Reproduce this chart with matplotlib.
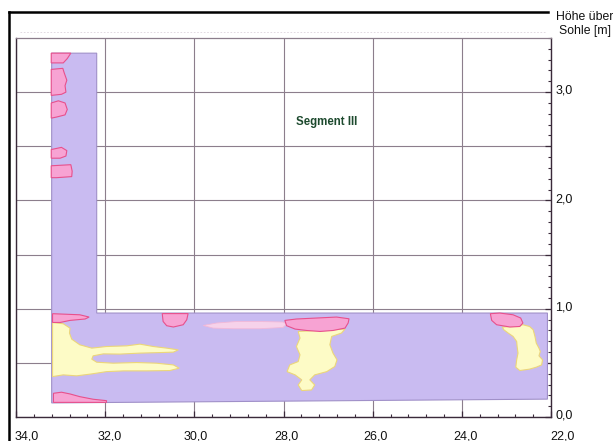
import matplotlib
matplotlib.use("Agg")
import matplotlib.pyplot as plt
from matplotlib.patches import Polygon
from matplotlib.ticker import FixedLocator, MultipleLocator, FuncFormatter
import matplotlib.transforms as mtrans
from matplotlib.lines import Line2D

plt.rcParams['font.family'] = ['Liberation Sans', 'DejaVu Sans']

# ---------------- data ----------------
x_major = [34.0, 32.0, 30.0, 28.0, 26.0, 24.0, 22.0]
x_labels = ["34,0", "32,0", "30,0", "28,0", "26,0", "24,0", "22,0"]
y_major = [0.0, 0.5, 1.0, 1.5, 2.0, 2.5, 3.0]
y_labels = {0.0: "0,0", 1.0: "1,0", 2.0: "2,0", 3.0: "3,0"}

# L-shaped section outline (station [m], height [m])
section_x = [33.2, 32.19, 32.19, 22.08, 22.08, 33.2]
section_y = [3.36, 3.36, 0.96, 0.96, 0.165, 0.13]

# pink (strong) zones
pink_zones = [
    ([33.21, 32.77, 32.85, 32.94, 33.21], [3.36, 3.36, 3.31, 3.27, 3.27]),
    ([33.21, 32.95, 32.92, 32.86, 32.90, 32.88, 32.98, 33.21],
     [3.21, 3.22, 3.18, 3.11, 3.06, 3.00, 2.98, 2.97]),
    ([33.21, 33.05, 32.90, 32.85, 32.90, 33.09, 33.21],
     [2.90, 2.92, 2.90, 2.84, 2.79, 2.77, 2.76]),
    ([33.21, 32.98, 32.86, 32.88, 33.01, 33.21],
     [2.47, 2.49, 2.46, 2.41, 2.39, 2.39]),
    ([33.21, 32.77, 32.74, 32.75, 33.09, 33.21],
     [2.32, 2.33, 2.27, 2.22, 2.21, 2.21]),
    ([33.18, 32.57, 32.36, 32.45, 32.79, 33.01, 33.18],
     [0.954, 0.944, 0.923, 0.905, 0.892, 0.873, 0.873]),
    ([33.16, 32.98, 32.79, 32.57, 32.27, 31.97, 31.97, 33.16],
     [0.219, 0.229, 0.213, 0.188, 0.164, 0.151, 0.135, 0.135]),
    ([30.72, 30.14, 30.17, 30.25, 30.47, 30.62, 30.70],
     [0.955, 0.955, 0.898, 0.852, 0.831, 0.843, 0.882]),
    ([27.97, 27.71, 27.26, 26.81, 26.53, 26.55, 26.62, 26.89, 27.18, 27.48, 27.74, 27.93],
     [0.892, 0.905, 0.914, 0.923, 0.907, 0.868, 0.821, 0.799, 0.790, 0.799, 0.812, 0.843]),
    ([23.36, 23.15, 22.85, 22.68, 22.63, 22.70, 22.92, 23.22, 23.33],
     [0.954, 0.960, 0.944, 0.914, 0.868, 0.836, 0.831, 0.852, 0.892]),
]

# pale pink streak
pale_x = [29.80, 29.50, 29.05, 28.53, 28.01, 27.93, 28.01, 28.53, 29.13, 29.58]
pale_y = [0.845, 0.868, 0.882, 0.882, 0.877, 0.858, 0.827, 0.815, 0.815, 0.821]

# yellow zones
yellow_left_x = [33.18, 32.94, 32.79, 32.80, 32.75, 32.57, 32.30, 31.97, 31.52, 31.22,
                 30.92, 30.62, 30.36, 30.47, 30.77, 31.22, 31.67, 32.04, 32.27, 32.30,
                 32.19, 31.82, 31.29, 30.85, 30.47, 30.34, 30.55, 31.07, 31.59, 31.97,
                 32.30, 32.64, 32.94, 33.18]
yellow_left_y = [0.873, 0.861, 0.821, 0.775, 0.719, 0.667, 0.636, 0.651, 0.657, 0.673,
                 0.651, 0.636, 0.620, 0.599, 0.595, 0.590, 0.581, 0.583, 0.565, 0.534,
                 0.506, 0.497, 0.503, 0.497, 0.481, 0.451, 0.429, 0.426, 0.426, 0.419,
                 0.398, 0.380, 0.389, 0.373]
yellow_mid_x = [27.67, 26.62, 26.70, 26.92, 26.96, 26.89, 26.80, 26.85, 27.03, 27.30,
                27.41, 27.30, 27.37, 27.59, 27.67, 27.59, 27.74, 27.92, 27.86, 27.67,
                27.63, 27.71, 27.63]
yellow_mid_y = [0.790, 0.812, 0.775, 0.744, 0.667, 0.590, 0.528, 0.466, 0.419, 0.389,
                0.343, 0.296, 0.250, 0.244, 0.296, 0.343, 0.389, 0.419, 0.481, 0.512,
                0.574, 0.651, 0.729]
yellow_right_x = [23.09, 22.85, 22.63, 22.48, 22.40, 22.36, 22.33, 22.27, 22.24, 22.27,
                  22.19, 22.21, 22.33, 22.48, 22.70, 22.79, 22.77, 22.74, 22.76, 22.77,
                  22.85, 22.96, 23.06]
yellow_right_y = [0.831, 0.836, 0.852, 0.836, 0.806, 0.744, 0.682, 0.636, 0.605, 0.565,
                  0.528, 0.481, 0.460, 0.442, 0.429, 0.460, 0.528, 0.590, 0.651, 0.697,
                  0.744, 0.775, 0.806]

segment_label = "Segment III"
segment_pos = (27.03, 2.72)
y_title = ["Höhe über", "Sohle [m]"]

# ---------------- figure ----------------
W, H = 613, 441
fig = plt.figure(figsize=(W / 100, H / 100), dpi=100)
ax = fig.add_axes([16 / W, 24 / H, 535 / W, 379 / H])
ax.set_xlim(34.0, 22.0)
ax.set_ylim(0.0, 3.5)

grid_c = '#8c7e8c'
ax.xaxis.set_major_locator(FixedLocator(x_major))
ax.set_xticklabels(x_labels)
ax.xaxis.set_minor_locator(MultipleLocator(0.4))
ax.yaxis.set_major_locator(FixedLocator(y_major))
ax.yaxis.set_major_formatter(FuncFormatter(lambda v, p: y_labels.get(round(v, 1), "")))
ax.yaxis.set_minor_locator(MultipleLocator(0.1))
ax.yaxis.tick_right()
ax.grid(True, which='major', color=grid_c, lw=0.8, ls='-', zorder=0)
ax.set_axisbelow(True)

tick_c = '#3a2a3a'
ax.tick_params(axis='x', which='both', direction='in', colors=tick_c,
               labelcolor='#111111', labelsize=9, pad=9.5)
ax.tick_params(axis='x', which='major', length=4, width=0.9)
ax.tick_params(axis='x', which='minor', length=2.5, width=0.8)
ax.tick_params(axis='y', which='both', direction='in', colors=tick_c,
               labelcolor='#111111', labelsize=9, pad=3)
ax.tick_params(axis='y', which='major', length=4, width=0.9)
ax.tick_params(axis='y', which='minor', length=2.5, width=0.8)

for s in ['left', 'bottom', 'right']:
    ax.spines[s].set_color('#3a2a3a')
    ax.spines[s].set_linewidth(1.0)
ax.spines['top'].set_color(grid_c)
ax.spines['top'].set_linewidth(0.9)

# shift x tick labels a little to the right as in the reference
shifts = [8, 3, 1, 2, 2, 3, 8]
for lbl, dx in zip(ax.get_xticklabels(), shifts):
    lbl.set_transform(lbl.get_transform() +
                      mtrans.ScaledTranslation(dx / 72, 0, fig.dpi_scale_trans))
# lift the y labels slightly (0,0 sits above the base line)
for lbl in ax.get_yticklabels():
    lbl.set_transform(lbl.get_transform() +
                      mtrans.ScaledTranslation(0, 2 / 72, fig.dpi_scale_trans))

# section body
ax.add_patch(Polygon(list(zip(section_x, section_y)), closed=True,
                     facecolor='#c9bbf1', edgecolor='#a090c8', lw=0.8, zorder=2))

# yellow zones
for xs, ys in [(yellow_left_x, yellow_left_y), (yellow_mid_x, yellow_mid_y),
               (yellow_right_x, yellow_right_y)]:
    ax.add_patch(Polygon(list(zip(xs, ys)), closed=True, facecolor='#fdfbc6',
                         edgecolor='#ecd67a', lw=0.8, zorder=3))

# pale pink streak
ax.add_patch(Polygon(list(zip(pale_x, pale_y)), closed=True, facecolor='#f6d2ea',
                     edgecolor='#f2b8d8', lw=0.6, zorder=3))

# pink zones
for xs, ys in pink_zones:
    ax.add_patch(Polygon(list(zip(xs, ys)), closed=True, facecolor='#f7a3d3',
                         edgecolor='#e8508c', lw=0.8, zorder=4))

ax.text(segment_pos[0], segment_pos[1], segment_label, ha='center', va='center',
        fontsize=8.3, fontweight='bold', color='#1d4a2e', zorder=5)

# axis title (top right)
fig.text(585 / W, 1 - 17 / H, y_title[0], ha='center', va='center',
         fontsize=8.8, color='#111111')
fig.text(585 / W, 1 - 31 / H, y_title[1], ha='center', va='center',
         fontsize=8.8, color='#111111')

# outer frame lines
fig.add_artist(Line2D([9 / W, 548 / W], [1 - 12 / H, 1 - 12 / H],
                      transform=fig.transFigure, color='black', lw=1.8))
fig.add_artist(Line2D([9 / W, 9 / W], [1 - 12 / H, 0], transform=fig.transFigure,
                      color='black', lw=1.8))
fig.add_artist(Line2D([20 / W, 545 / W], [1 - 32 / H, 1 - 32 / H],
                      transform=fig.transFigure, color='#ddd3dd', lw=0.6,
                      ls=(0, (2, 2))))

fig.savefig("out.png", dpi=100)
